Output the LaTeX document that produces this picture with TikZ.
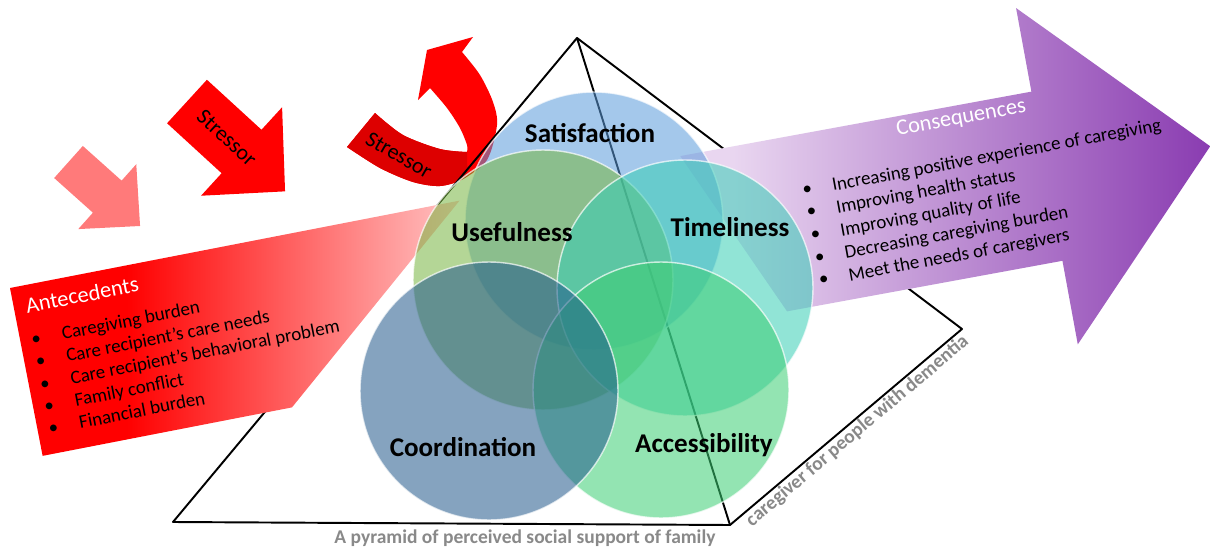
\documentclass[tikz,border=0pt]{standalone}
\usepackage{fontspec}
\setmainfont{Carlito}
\usepackage{xcolor}
\usepackage{tikz}
\definecolor{satblue}{RGB}{91,155,219}
\definecolor{usegreen}{RGB}{119,182,64}
\definecolor{timeaqua}{RGB}{55,206,182}
\definecolor{coordblue}{RGB}{33,88,140}
\definecolor{accgreen}{RGB}{60,206,115}
\definecolor{stresspink}{RGB}{255,122,122}
\definecolor{stressdark}{RGB}{221,0,0}
\definecolor{antpale}{RGB}{255,196,196}
\definecolor{conspale}{RGB}{233,214,240}
\definecolor{consdeep}{RGB}{138,60,177}
\definecolor{lblgray}{RGB}{137,137,137}
\pgfdeclarehorizontalshading{antfade}{100bp}{color(0bp)=(red); color(38bp)=(red); color(75bp)=(antpale); color(100bp)=(antpale)}
\pgfdeclarehorizontalshading{consfade}{100bp}{color(0bp)=(conspale); color(30bp)=(conspale); color(75bp)=(consdeep); color(100bp)=(consdeep)}

\begin{document}
\begin{tikzpicture}[x=0.02cm, y=0.02cm,
    ring/.style={circle, inner sep=0pt, fill opacity=0.55, draw=white, draw opacity=0.7, line width=0.8pt},
    facet/.style={font=\fontsize{15.4}{18}\selectfont\bfseries, inner sep=0pt},
    pyrline/.style={line width=1.1pt, black, line join=round},
    entry/.style={font=\fontsize{10.8}{13}\selectfont, inner sep=0pt, anchor=base west},
    bul/.style={font=\fontsize{10.8}{13}\selectfont, inner sep=0pt, anchor=base},
    headtxt/.style={font=\fontsize{12.75}{15}\selectfont, text=white, inner sep=0pt},
    stresstxt/.style={font=\fontsize{12.5}{15}\selectfont, inner sep=0pt},
    axislbl/.style={font=\fontsize{11.1}{13}\selectfont\bfseries, text=lblgray}
]
\fill[white] (0,0) rectangle (1211,549);
\useasboundingbox (0,0) rectangle (1211,549);

% Stressor arrows
\begin{scope}[shift={(68.5,387)}, rotate=-41.8]
  \fill[stresspink] (0,21.5) -- (52,21.5) -- (52,43.5) -- (96,0) -- (52,-43.5) -- (52,-21.5) -- (0,-21.5) -- cycle;
\end{scope}
\begin{scope}[shift={(187,447.5)}, rotate=-42.5, transform shape]
  \fill[red] (0,29.5) -- (74,29.5) -- (74,60) -- (133,0) -- (74,-60) -- (74,-29.5) -- (0,-29.5) -- cycle;
  \node[stresstxt] (stress1) at (54,0) {Stressor};
\end{scope}

% curved stressor, darker along the tail
\begin{scope}[smooth]
  \fill[red] plot coordinates {(347,402) (380,381) (413,367) (440,363) (463,370) (487,389) (497,424) (493,447) (480,474) (462,497)}
    -- (473,512) -- (427,499) -- (418,449) -- (430,461)
    -- plot coordinates {(430,461) (447,441) (460,421) (467,404) (467,397)}
    -- plot coordinates {(467,397) (440,400) (403,414) (375,436)} -- cycle;
  \clip plot coordinates {(347,402) (380,381) (413,367) (440,363) (463,370) (487,389) (497,424) (493,447) (480,474) (462,497)}
    -- (473,512) -- (427,499) -- (418,449) -- (430,461)
    -- plot coordinates {(430,461) (447,441) (460,421) (467,404) (467,397)}
    -- plot coordinates {(467,397) (440,400) (403,414) (375,436)} -- cycle;
  \fill[stressdark] (330,340) -- (468,340) -- (467,398) -- (340,460) -- cycle;
\end{scope}
\node[stresstxt, rotate=-30] (stress2) at (399,394) {Stressor};

% Pyramid
\coordinate (apex) at (577,511);
\coordinate (fl) at (173,27);
\coordinate (fr) at (730,24);
\coordinate (br) at (962,220);
\draw[pyrline] (fl) -- (apex) -- (fr) -- cycle;
\draw[pyrline] (apex) -- (br) -- (fr);

% Antecedents
\begin{scope}[shift={(10,261)}, rotate=11, transform shape]
  \shade[shading=antfade] (0,0) -- (458,0) -- (254,-171) -- (0,-171) -- cycle;
  \node[headtxt, anchor=base west] (antecedents) at (12,-28) {Antecedents};
  \foreach \txt [count=\i] in {Caregiving burden, Care recipient’s care needs,
      Care recipient’s behavioral problem, Family conflict, Financial burden} {
    \node[bul] at (16,{-61-22.6*(\i-1)}) {\textbullet};
    \node[entry] (ant\i) at (42,{-61-22.6*(\i-1)}) {\txt};
  }
\end{scope}

% Consequences
\begin{scope}[shift={(697,396)}, rotate=10.4, transform shape]
  \shade[shading=consfade] (-17,0) -- (340,0) -- (340,85) -- (506,-86) -- (340,-257) -- (340,-172) -- (60,-172) -- cycle;
  \node[headtxt] (consequences) at (266,-14) {Consequences};
  \foreach \txt [count=\i] in {Increasing positive experience of caregiving, Improving health status,
      Improving quality of life, Decreasing caregiving burden, Meet the needs of caregivers} {
    \node[bul] at (102,{-61-22.9*(\i-1)}) {\textbullet};
    \node[entry] (cons\i) at (127,{-62-22.9*(\i-1)}) {\txt};
  }
\end{scope}

% Five dimensions
\node[ring, fill=satblue, minimum size=5.16cm] (satc) at (594,328) {};
\node[ring, fill=usegreen, minimum size=5.2cm] (usec) at (543,269) {};
\node[ring, fill=timeaqua, minimum size=5.12cm] (timec) at (685,261) {};
\node[ring, fill=accgreen, minimum size=5.12cm] (accc) at (661,159) {};
\node[ring, fill=coordblue, minimum size=5.16cm] (coordc) at (489,158) {};

\node[facet] (satl) at (590,416) {Satisfaction};
\node[facet] (usel) at (512,317) {Usefulness};
\node[facet] (timel) at (730,322) {Timeliness};
\node[facet] (coordl) at (463,102) {Coordination};
\node[facet] (accl) at (704,104) {Accessibility};

% Base labels
\node[axislbl, anchor=base] (pyrlbl) at (525,6) {A pyramid of perceived social support of family};
\path (fr) -- (br) node[axislbl, sloped, pos=0.52, below, inner sep=1pt] (dementia) {caregiver for people with dementia};

\end{tikzpicture}
\end{document}
